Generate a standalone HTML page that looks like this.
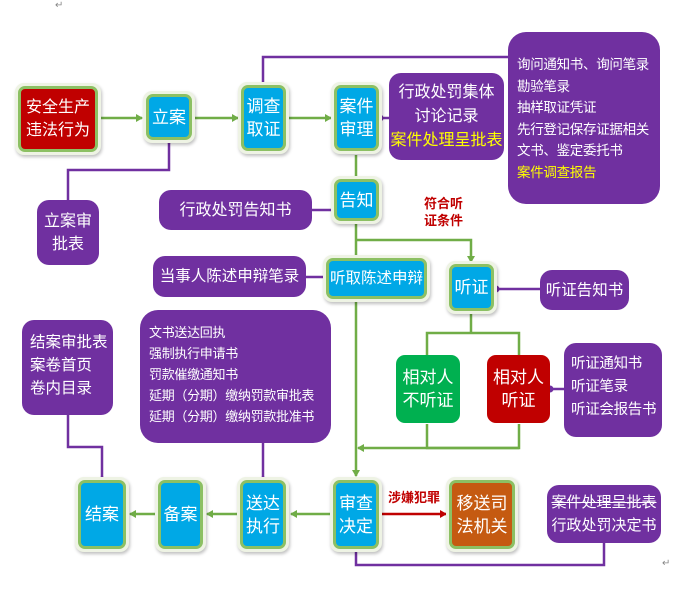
<!DOCTYPE html><html><head><meta charset="utf-8"><style>
body{margin:0;width:694px;height:595px;background:#fff;position:relative;overflow:hidden;font-family:"Liberation Sans","Noto Sans CJK SC",sans-serif;white-space:nowrap}
.n{position:absolute;box-sizing:border-box;border-radius:9px;background:#eef3e4;padding:3px;box-shadow:1px 2px 3px rgba(0,0,0,.25)}
.n div{width:100%;height:100%;box-sizing:border-box;border:3px solid #8cc063;border-radius:7px;background:#00a8e6;color:#fff;display:flex;align-items:center;justify-content:center;text-align:center;font-size:17px;line-height:23px}
.p{position:absolute;box-sizing:border-box;background:#7030a0;color:#fff;border-radius:12px;font-size:15px;line-height:19px}
.c{display:flex;align-items:center;justify-content:center;text-align:center}
.y{color:#ffff00}
svg{position:absolute;left:0;top:0}
</style></head><body>
<svg width="694" height="595">
<defs>
<marker id="g" markerWidth="8" markerHeight="8" refX="6" refY="4" orient="auto" markerUnits="userSpaceOnUse"><path d="M0,0 L7,4 L0,8 z" fill="#70ad47"/></marker>
<marker id="r" markerWidth="8" markerHeight="8" refX="6" refY="4" orient="auto" markerUnits="userSpaceOnUse"><path d="M0,0 L7,4 L0,8 z" fill="#c00000"/></marker>
</defs>
<g stroke="#70ad47" stroke-width="2.5" fill="none">
<line x1="100" y1="118" x2="142" y2="118" marker-end="url(#g)"/>
<line x1="195" y1="118" x2="238" y2="118" marker-end="url(#g)"/>
<line x1="289" y1="118" x2="331" y2="118" marker-end="url(#g)"/>
<line x1="356" y1="155" x2="356" y2="178"/>
<line x1="356" y1="224" x2="356" y2="258"/>
<polyline points="356,240 471,240 471,262" marker-end="url(#g)"/>
<line x1="356" y1="300" x2="356" y2="476" marker-end="url(#g)"/>
<polyline points="471,314 471,333"/>
<polyline points="427,355 427,333 519,333 519,355"/>
<polyline points="427,424 427,448 519,448 519,424"/>
<line x1="519" y1="448" x2="358" y2="448" marker-end="url(#g)"/>
<line x1="331" y1="514" x2="291" y2="514" marker-end="url(#g)"/>
<line x1="238" y1="514" x2="207" y2="514" marker-end="url(#g)"/>
<line x1="156" y1="514" x2="130" y2="514" marker-end="url(#g)"/>
</g>
<line x1="382" y1="514" x2="446" y2="514" stroke="#c00000" stroke-width="2.5" marker-end="url(#r)"/>
<g stroke="#7030a0" stroke-width="2.5" fill="none">
<polyline points="263,86 263,57 510,57"/>
<polyline points="169,140 169,170 68,170 68,202"/>
<line x1="380" y1="118" x2="390" y2="118"/>
<line x1="312" y1="210" x2="333" y2="210"/>
<line x1="306" y1="277" x2="325" y2="277"/>
<line x1="496" y1="289" x2="541" y2="289"/>
<line x1="550" y1="389" x2="565" y2="389"/>
<polyline points="68,414 68,447 102,447 102,480"/>
<line x1="263" y1="442" x2="263" y2="480"/>
<polyline points="604,542 604,565 356,565 356,548"/>
</g>
<g fill="#7030a0"><circle cx="263" cy="86" r="3.5"/><circle cx="169" cy="140" r="3.5"/><circle cx="380" cy="118" r="3.5"/><circle cx="496" cy="289" r="3.5"/><circle cx="550" cy="389" r="3.5"/><circle cx="102" cy="480" r="3.5"/><circle cx="263" cy="480" r="3.5"/><circle cx="356" cy="548" r="3.5"/></g>
</svg>
<div style="position:absolute;left:55px;top:0;font-size:10px;color:#888">↵</div>
<div style="position:absolute;left:662px;top:558px;font-size:10px;color:#888">↵</div>

<div class="n" style="left:15px;top:83px;width:86px;height:72px"><div style="background:#c00000;font-size:16px">安全生产<br>违法行为</div></div>
<div class="n" style="left:143px;top:91px;width:52px;height:52px"><div>立案</div></div>
<div class="n" style="left:238px;top:82px;width:51px;height:72px"><div>调查<br>取证</div></div>
<div class="n" style="left:331px;top:82px;width:51px;height:72px"><div>案件<br>审理</div></div>
<div class="n" style="left:331px;top:176px;width:51px;height:48px"><div>告知</div></div>
<div class="n" style="left:323px;top:255px;width:107px;height:47px"><div style="font-size:15.5px">听取陈述申辩</div></div>
<div class="n" style="left:446px;top:261px;width:51px;height:53px"><div>听证</div></div>
<div class="p c" style="left:396px;top:355px;width:64px;height:68px;background:#00b050;font-size:17px;line-height:23px;border-radius:9px"><span>相对人<br>不听证</span></div>
<div class="p c" style="left:487px;top:355px;width:63px;height:68px;background:#c00000;font-size:17px;line-height:23px;border-radius:9px"><span>相对人<br>听证</span></div>
<div class="n" style="left:75px;top:477px;width:54px;height:75px"><div>结案</div></div>
<div class="n" style="left:155px;top:477px;width:51px;height:75px"><div>备案</div></div>
<div class="n" style="left:237px;top:477px;width:52px;height:75px"><div>送达<br>执行</div></div>
<div class="n" style="left:330px;top:477px;width:52px;height:75px"><div>审查<br>决定</div></div>
<div class="n" style="left:446px;top:477px;width:72px;height:75px"><div style="background:#c55a11">移送司<br>法机关</div></div>

<div class="p c" style="left:389px;top:73px;width:115px;height:87px;font-size:16px;line-height:24px"><span>行政处罚集体<br>讨论记录<br><span class="y">案件处理呈批表</span></span></div>
<div class="p" style="left:508px;top:32px;width:152px;height:172px;padding:22px 0 0 9px;font-size:13.5px;line-height:21.5px;letter-spacing:-0.3px;border-radius:18px">询问通知书、询问笔录<br>勘验笔录<br>抽样取证凭证<br>先行登记保存证据相关<br>文书、鉴定委托书<br><span class="y">案件调查报告</span></div>
<div class="p c" style="left:37px;top:200px;width:62px;height:65px;font-size:16px;line-height:23px"><span>立案审<br>批表</span></div>
<div class="p c" style="left:159px;top:190px;width:153px;height:40px;font-size:16px">行政处罚告知书</div>
<div style="position:absolute;left:424px;top:195px;color:#c00000;font-size:13px;line-height:17px;text-align:center;font-weight:bold">符合听<br>证条件</div>
<div class="p c" style="left:153px;top:256px;width:153px;height:41px;font-size:15.5px">当事人陈述申辩笔录</div>
<div class="p c" style="left:540px;top:270px;width:89px;height:40px;font-size:15.5px">听证告知书</div>
<div class="p" style="left:22px;top:320px;width:91px;height:95px;padding:11px 0 0 8px;font-size:15.5px;line-height:23px">结案审批表<br>案卷首页<br>卷内目录</div>
<div class="p" style="left:140px;top:310px;width:191px;height:133px;padding:12px 0 0 9px;font-size:13px;line-height:21px;letter-spacing:-0.3px;border-radius:18px">文书送达回执<br>强制执行申请书<br>罚款催缴通知书<br>延期（分期）缴纳罚款审批表<br>延期（分期）缴纳罚款批准书</div>
<div class="p" style="left:564px;top:343px;width:98px;height:94px;padding:10px 0 0 7px;font-size:14.5px;line-height:23px;letter-spacing:-0.3px">听证通知书<br>听证笔录<br>听证会报告书</div>
<div style="position:absolute;left:388px;top:487px;color:#c00000;font-size:13px;font-weight:bold">涉嫌犯罪</div>
<div class="p c" style="left:547px;top:485px;width:114px;height:58px;font-size:15px;line-height:23px"><span><s>案件处理呈批表</s><br>行政处罚决定书</span></div>
</body></html>
